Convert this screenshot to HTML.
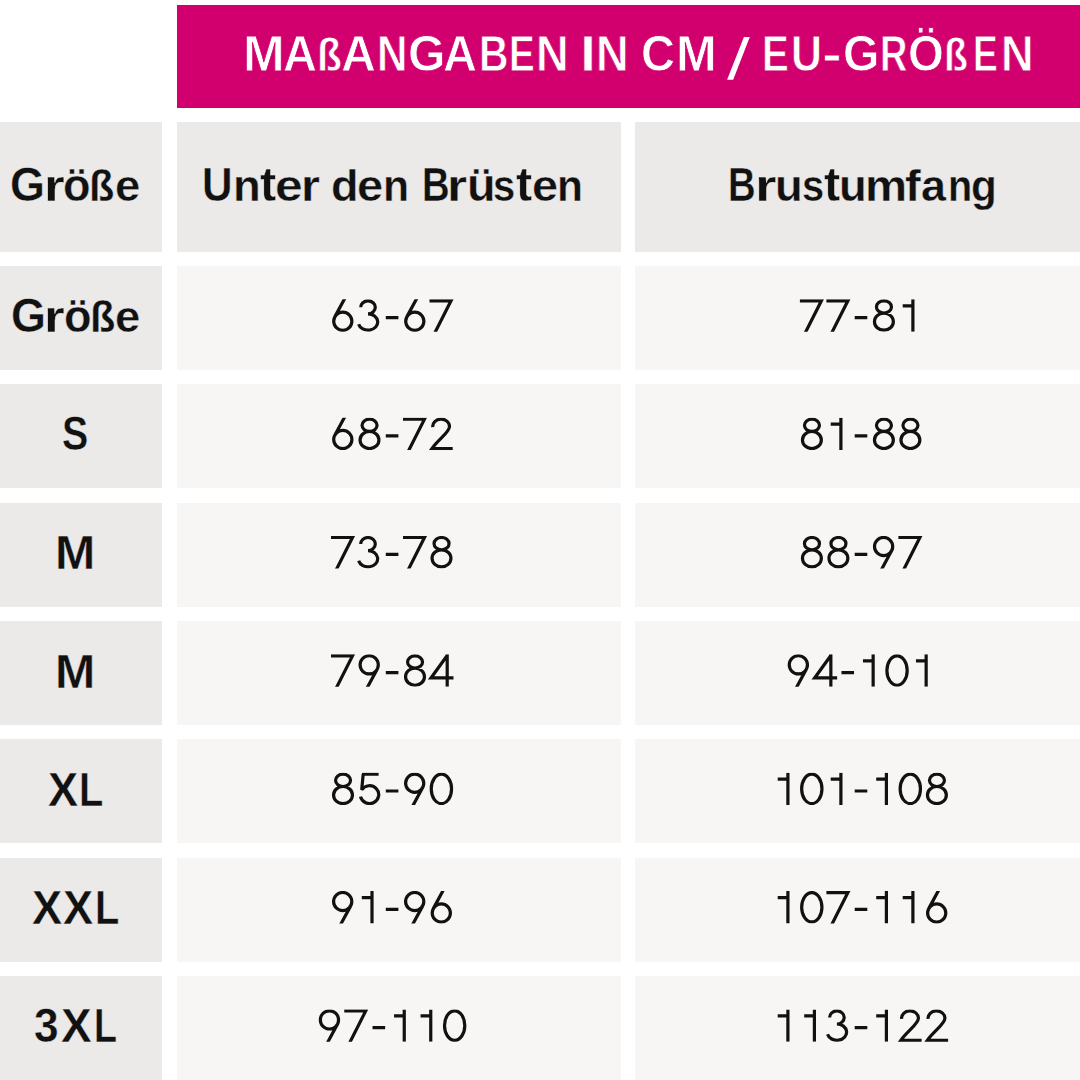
<!DOCTYPE html><html><head><meta charset="utf-8"><title>Maßangaben</title><style>
html,body{margin:0;padding:0;width:1080px;height:1080px;overflow:hidden;background:#fff;}
.c{position:absolute;}
.t{position:absolute;white-space:nowrap;line-height:1;font-family:"Liberation Sans",sans-serif;font-weight:700;color:#111111;transform-origin:0 0;}
</style></head><body>
<div class="c" style="left:177px;top:5px;width:903px;height:103px;background:#d1006e"></div>
<div class="c" style="left:0px;top:122px;width:162px;height:130px;background:#ebeae8"></div>
<div class="c" style="left:177px;top:122px;width:444px;height:130px;background:#ebeae8"></div>
<div class="c" style="left:635px;top:122px;width:445px;height:130px;background:#ebeae8"></div>
<div class="c" style="left:0px;top:266px;width:162px;height:104px;background:#ebeae8"></div>
<div class="c" style="left:177px;top:266px;width:444px;height:104px;background:#f7f6f4"></div>
<div class="c" style="left:635px;top:266px;width:445px;height:104px;background:#f7f6f4"></div>
<div class="c" style="left:0px;top:384px;width:162px;height:104px;background:#ebeae8"></div>
<div class="c" style="left:177px;top:384px;width:444px;height:104px;background:#f7f6f4"></div>
<div class="c" style="left:635px;top:384px;width:445px;height:104px;background:#f7f6f4"></div>
<div class="c" style="left:0px;top:503px;width:162px;height:104px;background:#ebeae8"></div>
<div class="c" style="left:177px;top:503px;width:444px;height:104px;background:#f7f6f4"></div>
<div class="c" style="left:635px;top:503px;width:445px;height:104px;background:#f7f6f4"></div>
<div class="c" style="left:0px;top:621px;width:162px;height:104px;background:#ebeae8"></div>
<div class="c" style="left:177px;top:621px;width:444px;height:104px;background:#f7f6f4"></div>
<div class="c" style="left:635px;top:621px;width:445px;height:104px;background:#f7f6f4"></div>
<div class="c" style="left:0px;top:739px;width:162px;height:104px;background:#ebeae8"></div>
<div class="c" style="left:177px;top:739px;width:444px;height:104px;background:#f7f6f4"></div>
<div class="c" style="left:635px;top:739px;width:445px;height:104px;background:#f7f6f4"></div>
<div class="c" style="left:0px;top:858px;width:162px;height:104px;background:#ebeae8"></div>
<div class="c" style="left:177px;top:858px;width:444px;height:104px;background:#f7f6f4"></div>
<div class="c" style="left:635px;top:858px;width:445px;height:104px;background:#f7f6f4"></div>
<div class="c" style="left:0px;top:976px;width:162px;height:104px;background:#ebeae8"></div>
<div class="c" style="left:177px;top:976px;width:444px;height:104px;background:#f7f6f4"></div>
<div class="c" style="left:635px;top:976px;width:445px;height:104px;background:#f7f6f4"></div>
<svg class="c" style="left:0;top:0" width="1080" height="120"><polygon points="743.9,36.9 749.8,36.9 733.2,79.7 727.1,79.7" fill="#ffffff"/></svg>
<svg class="c" style="left:0;top:0" width="1080" height="1080"><defs><clipPath id="cl" clipPathUnits="userSpaceOnUse"><rect x="-10" y="0" width="50" height="32.4"/></clipPath></defs><g fill="none" stroke="#111111" stroke-width="3.20" stroke-linecap="butt" stroke-linejoin="miter">
<path clip-path="url(#cl)" transform="translate(329.50,299.30)" d="M16.42,-3.00 L5.30,17.57 M4.20,21.90 A9.10,9.10 0 1 0 22.40,21.90 A9.10,9.10 0 1 0 4.20,21.90 Z"/>
<path clip-path="url(#cl)" transform="translate(356.00,299.30)" d="M4.70,8.05 A7.30,6.55 0 1 1 12.00,14.60 A9.70,8.15 0 1 1 2.63,24.86"/>
<path clip-path="url(#cl)" transform="translate(382.50,299.30)" d="M3.3,18.3 H15.9"/>
<path clip-path="url(#cl)" transform="translate(401.50,299.30)" d="M16.42,-3.00 L5.30,17.57 M4.20,21.90 A9.10,9.10 0 1 0 22.40,21.90 A9.10,9.10 0 1 0 4.20,21.90 Z"/>
<path clip-path="url(#cl)" transform="translate(428.00,299.30)" d="M1.5,1.5 H23.0 L6.6,34.0"/>
<path clip-path="url(#cl)" transform="translate(798.40,299.30)" d="M1.5,1.5 H23.0 L6.6,34.0"/>
<path clip-path="url(#cl)" transform="translate(824.90,299.30)" d="M1.5,1.5 H23.0 L6.6,34.0"/>
<path clip-path="url(#cl)" transform="translate(851.40,299.30)" d="M3.3,18.3 H15.9"/>
<path clip-path="url(#cl)" transform="translate(870.40,299.30)" d="M6.05,7.65 A7.50,6.15 0 1 0 21.05,7.65 A7.50,6.15 0 1 0 6.05,7.65 Z M4.05,22.35 A9.45,8.55 0 1 0 22.95,22.35 A9.45,8.55 0 1 0 4.05,22.35 Z"/>
<path clip-path="url(#cl)" transform="translate(896.90,299.30)" d="M16.0,0 V32.4 M5.8,6.5 H17.0"/>
<path clip-path="url(#cl)" transform="translate(329.50,417.65)" d="M16.42,-3.00 L5.30,17.57 M4.20,21.90 A9.10,9.10 0 1 0 22.40,21.90 A9.10,9.10 0 1 0 4.20,21.90 Z"/>
<path clip-path="url(#cl)" transform="translate(356.00,417.65)" d="M6.05,7.65 A7.50,6.15 0 1 0 21.05,7.65 A7.50,6.15 0 1 0 6.05,7.65 Z M4.05,22.35 A9.45,8.55 0 1 0 22.95,22.35 A9.45,8.55 0 1 0 4.05,22.35 Z"/>
<path clip-path="url(#cl)" transform="translate(382.50,417.65)" d="M3.3,18.3 H15.9"/>
<path clip-path="url(#cl)" transform="translate(401.50,417.65)" d="M1.5,1.5 H23.0 L6.6,34.0"/>
<path clip-path="url(#cl)" transform="translate(428.00,417.65)" d="M4.73,9.44 A8.40,7.40 0 1 1 21.50,8.80 C21.5,14.6 10.5,21.5 3.9,30.9 L24.7,30.9"/>
<path clip-path="url(#cl)" transform="translate(798.40,417.65)" d="M6.05,7.65 A7.50,6.15 0 1 0 21.05,7.65 A7.50,6.15 0 1 0 6.05,7.65 Z M4.05,22.35 A9.45,8.55 0 1 0 22.95,22.35 A9.45,8.55 0 1 0 4.05,22.35 Z"/>
<path clip-path="url(#cl)" transform="translate(824.90,417.65)" d="M16.0,0 V32.4 M5.8,6.5 H17.0"/>
<path clip-path="url(#cl)" transform="translate(851.40,417.65)" d="M3.3,18.3 H15.9"/>
<path clip-path="url(#cl)" transform="translate(870.40,417.65)" d="M6.05,7.65 A7.50,6.15 0 1 0 21.05,7.65 A7.50,6.15 0 1 0 6.05,7.65 Z M4.05,22.35 A9.45,8.55 0 1 0 22.95,22.35 A9.45,8.55 0 1 0 4.05,22.35 Z"/>
<path clip-path="url(#cl)" transform="translate(896.90,417.65)" d="M6.05,7.65 A7.50,6.15 0 1 0 21.05,7.65 A7.50,6.15 0 1 0 6.05,7.65 Z M4.05,22.35 A9.45,8.55 0 1 0 22.95,22.35 A9.45,8.55 0 1 0 4.05,22.35 Z"/>
<path clip-path="url(#cl)" transform="translate(329.50,536.00)" d="M1.5,1.5 H23.0 L6.6,34.0"/>
<path clip-path="url(#cl)" transform="translate(356.00,536.00)" d="M4.70,8.05 A7.30,6.55 0 1 1 12.00,14.60 A9.70,8.15 0 1 1 2.63,24.86"/>
<path clip-path="url(#cl)" transform="translate(382.50,536.00)" d="M3.3,18.3 H15.9"/>
<path clip-path="url(#cl)" transform="translate(401.50,536.00)" d="M1.5,1.5 H23.0 L6.6,34.0"/>
<path clip-path="url(#cl)" transform="translate(428.00,536.00)" d="M6.05,7.65 A7.50,6.15 0 1 0 21.05,7.65 A7.50,6.15 0 1 0 6.05,7.65 Z M4.05,22.35 A9.45,8.55 0 1 0 22.95,22.35 A9.45,8.55 0 1 0 4.05,22.35 Z"/>
<path clip-path="url(#cl)" transform="translate(798.40,536.00)" d="M6.05,7.65 A7.50,6.15 0 1 0 21.05,7.65 A7.50,6.15 0 1 0 6.05,7.65 Z M4.05,22.35 A9.45,8.55 0 1 0 22.95,22.35 A9.45,8.55 0 1 0 4.05,22.35 Z"/>
<path clip-path="url(#cl)" transform="translate(824.90,536.00)" d="M6.05,7.65 A7.50,6.15 0 1 0 21.05,7.65 A7.50,6.15 0 1 0 6.05,7.65 Z M4.05,22.35 A9.45,8.55 0 1 0 22.95,22.35 A9.45,8.55 0 1 0 4.05,22.35 Z"/>
<path clip-path="url(#cl)" transform="translate(851.40,536.00)" d="M3.3,18.3 H15.9"/>
<path clip-path="url(#cl)" transform="translate(870.40,536.00) rotate(180 13.25 16.2)" d="M16.42,-3.00 L5.30,17.57 M4.20,21.90 A9.10,9.10 0 1 0 22.40,21.90 A9.10,9.10 0 1 0 4.20,21.90 Z"/>
<path clip-path="url(#cl)" transform="translate(896.90,536.00)" d="M1.5,1.5 H23.0 L6.6,34.0"/>
<path clip-path="url(#cl)" transform="translate(329.50,654.35)" d="M1.5,1.5 H23.0 L6.6,34.0"/>
<path clip-path="url(#cl)" transform="translate(356.00,654.35) rotate(180 13.25 16.2)" d="M16.42,-3.00 L5.30,17.57 M4.20,21.90 A9.10,9.10 0 1 0 22.40,21.90 A9.10,9.10 0 1 0 4.20,21.90 Z"/>
<path clip-path="url(#cl)" transform="translate(382.50,654.35)" d="M3.3,18.3 H15.9"/>
<path clip-path="url(#cl)" transform="translate(401.50,654.35)" d="M6.05,7.65 A7.50,6.15 0 1 0 21.05,7.65 A7.50,6.15 0 1 0 6.05,7.65 Z M4.05,22.35 A9.45,8.55 0 1 0 22.95,22.35 A9.45,8.55 0 1 0 4.05,22.35 Z"/>
<path clip-path="url(#cl)" transform="translate(428.00,654.35)" d="M19.2,1.2 L3.0,23.6 L25.5,23.6 M19.2,0 V32.4"/>
<path clip-path="url(#cl)" transform="translate(785.15,654.35) rotate(180 13.25 16.2)" d="M16.42,-3.00 L5.30,17.57 M4.20,21.90 A9.10,9.10 0 1 0 22.40,21.90 A9.10,9.10 0 1 0 4.20,21.90 Z"/>
<path clip-path="url(#cl)" transform="translate(811.65,654.35)" d="M19.2,1.2 L3.0,23.6 L25.5,23.6 M19.2,0 V32.4"/>
<path clip-path="url(#cl)" transform="translate(838.15,654.35)" d="M3.3,18.3 H15.9"/>
<path clip-path="url(#cl)" transform="translate(857.15,654.35)" d="M16.0,0 V32.4 M5.8,6.5 H17.0"/>
<path clip-path="url(#cl)" transform="translate(883.65,654.35)" d="M3.25,16.20 A10.15,14.70 0 1 0 23.55,16.20 A10.15,14.70 0 1 0 3.25,16.20 Z"/>
<path clip-path="url(#cl)" transform="translate(910.15,654.35)" d="M16.0,0 V32.4 M5.8,6.5 H17.0"/>
<path clip-path="url(#cl)" transform="translate(329.50,772.70)" d="M6.05,7.65 A7.50,6.15 0 1 0 21.05,7.65 A7.50,6.15 0 1 0 6.05,7.65 Z M4.05,22.35 A9.45,8.55 0 1 0 22.95,22.35 A9.45,8.55 0 1 0 4.05,22.35 Z"/>
<path clip-path="url(#cl)" transform="translate(356.00,772.70)" d="M6.0,1.5 H22.6 M7.2,1.5 L5.70,17.12 A9.25,8.90 0 1 1 4.50,23.95"/>
<path clip-path="url(#cl)" transform="translate(382.50,772.70)" d="M3.3,18.3 H15.9"/>
<path clip-path="url(#cl)" transform="translate(401.50,772.70) rotate(180 13.25 16.2)" d="M16.42,-3.00 L5.30,17.57 M4.20,21.90 A9.10,9.10 0 1 0 22.40,21.90 A9.10,9.10 0 1 0 4.20,21.90 Z"/>
<path clip-path="url(#cl)" transform="translate(428.00,772.70)" d="M3.25,16.20 A10.15,14.70 0 1 0 23.55,16.20 A10.15,14.70 0 1 0 3.25,16.20 Z"/>
<path clip-path="url(#cl)" transform="translate(771.90,772.70)" d="M16.0,0 V32.4 M5.8,6.5 H17.0"/>
<path clip-path="url(#cl)" transform="translate(798.40,772.70)" d="M3.25,16.20 A10.15,14.70 0 1 0 23.55,16.20 A10.15,14.70 0 1 0 3.25,16.20 Z"/>
<path clip-path="url(#cl)" transform="translate(824.90,772.70)" d="M16.0,0 V32.4 M5.8,6.5 H17.0"/>
<path clip-path="url(#cl)" transform="translate(851.40,772.70)" d="M3.3,18.3 H15.9"/>
<path clip-path="url(#cl)" transform="translate(870.40,772.70)" d="M16.0,0 V32.4 M5.8,6.5 H17.0"/>
<path clip-path="url(#cl)" transform="translate(896.90,772.70)" d="M3.25,16.20 A10.15,14.70 0 1 0 23.55,16.20 A10.15,14.70 0 1 0 3.25,16.20 Z"/>
<path clip-path="url(#cl)" transform="translate(923.40,772.70)" d="M6.05,7.65 A7.50,6.15 0 1 0 21.05,7.65 A7.50,6.15 0 1 0 6.05,7.65 Z M4.05,22.35 A9.45,8.55 0 1 0 22.95,22.35 A9.45,8.55 0 1 0 4.05,22.35 Z"/>
<path clip-path="url(#cl)" transform="translate(329.50,891.05) rotate(180 13.25 16.2)" d="M16.42,-3.00 L5.30,17.57 M4.20,21.90 A9.10,9.10 0 1 0 22.40,21.90 A9.10,9.10 0 1 0 4.20,21.90 Z"/>
<path clip-path="url(#cl)" transform="translate(356.00,891.05)" d="M16.0,0 V32.4 M5.8,6.5 H17.0"/>
<path clip-path="url(#cl)" transform="translate(382.50,891.05)" d="M3.3,18.3 H15.9"/>
<path clip-path="url(#cl)" transform="translate(401.50,891.05) rotate(180 13.25 16.2)" d="M16.42,-3.00 L5.30,17.57 M4.20,21.90 A9.10,9.10 0 1 0 22.40,21.90 A9.10,9.10 0 1 0 4.20,21.90 Z"/>
<path clip-path="url(#cl)" transform="translate(428.00,891.05)" d="M16.42,-3.00 L5.30,17.57 M4.20,21.90 A9.10,9.10 0 1 0 22.40,21.90 A9.10,9.10 0 1 0 4.20,21.90 Z"/>
<path clip-path="url(#cl)" transform="translate(771.90,891.05)" d="M16.0,0 V32.4 M5.8,6.5 H17.0"/>
<path clip-path="url(#cl)" transform="translate(798.40,891.05)" d="M3.25,16.20 A10.15,14.70 0 1 0 23.55,16.20 A10.15,14.70 0 1 0 3.25,16.20 Z"/>
<path clip-path="url(#cl)" transform="translate(824.90,891.05)" d="M1.5,1.5 H23.0 L6.6,34.0"/>
<path clip-path="url(#cl)" transform="translate(851.40,891.05)" d="M3.3,18.3 H15.9"/>
<path clip-path="url(#cl)" transform="translate(870.40,891.05)" d="M16.0,0 V32.4 M5.8,6.5 H17.0"/>
<path clip-path="url(#cl)" transform="translate(896.90,891.05)" d="M16.0,0 V32.4 M5.8,6.5 H17.0"/>
<path clip-path="url(#cl)" transform="translate(923.40,891.05)" d="M16.42,-3.00 L5.30,17.57 M4.20,21.90 A9.10,9.10 0 1 0 22.40,21.90 A9.10,9.10 0 1 0 4.20,21.90 Z"/>
<path clip-path="url(#cl)" transform="translate(316.25,1009.40) rotate(180 13.25 16.2)" d="M16.42,-3.00 L5.30,17.57 M4.20,21.90 A9.10,9.10 0 1 0 22.40,21.90 A9.10,9.10 0 1 0 4.20,21.90 Z"/>
<path clip-path="url(#cl)" transform="translate(342.75,1009.40)" d="M1.5,1.5 H23.0 L6.6,34.0"/>
<path clip-path="url(#cl)" transform="translate(369.25,1009.40)" d="M3.3,18.3 H15.9"/>
<path clip-path="url(#cl)" transform="translate(388.25,1009.40)" d="M16.0,0 V32.4 M5.8,6.5 H17.0"/>
<path clip-path="url(#cl)" transform="translate(414.75,1009.40)" d="M16.0,0 V32.4 M5.8,6.5 H17.0"/>
<path clip-path="url(#cl)" transform="translate(441.25,1009.40)" d="M3.25,16.20 A10.15,14.70 0 1 0 23.55,16.20 A10.15,14.70 0 1 0 3.25,16.20 Z"/>
<path clip-path="url(#cl)" transform="translate(771.90,1009.40)" d="M16.0,0 V32.4 M5.8,6.5 H17.0"/>
<path clip-path="url(#cl)" transform="translate(798.40,1009.40)" d="M16.0,0 V32.4 M5.8,6.5 H17.0"/>
<path clip-path="url(#cl)" transform="translate(824.90,1009.40)" d="M4.70,8.05 A7.30,6.55 0 1 1 12.00,14.60 A9.70,8.15 0 1 1 2.63,24.86"/>
<path clip-path="url(#cl)" transform="translate(851.40,1009.40)" d="M3.3,18.3 H15.9"/>
<path clip-path="url(#cl)" transform="translate(870.40,1009.40)" d="M16.0,0 V32.4 M5.8,6.5 H17.0"/>
<path clip-path="url(#cl)" transform="translate(896.90,1009.40)" d="M4.73,9.44 A8.40,7.40 0 1 1 21.50,8.80 C21.5,14.6 10.5,21.5 3.9,30.9 L24.7,30.9"/>
<path clip-path="url(#cl)" transform="translate(923.40,1009.40)" d="M4.73,9.44 A8.40,7.40 0 1 1 21.50,8.80 C21.5,14.6 10.5,21.5 3.9,30.9 L24.7,30.9"/>
</g></svg>
<div class="t" style="left:242.96px;top:29.20px;font-size:49.20px;transform:scale(1.0145,1.0000);transform-origin:0 41.35px;-webkit-text-stroke:0.80px #d1006e;color:#ffffff;">M</div>
<div class="t" style="left:283.43px;top:29.20px;font-size:49.20px;transform:scale(0.9573,1.0000);transform-origin:0 41.35px;-webkit-text-stroke:0.80px #d1006e;color:#ffffff;">A</div>
<div class="t" style="left:316.77px;top:29.20px;font-size:49.20px;transform:scale(0.8246,0.9500);transform-origin:0 41.35px;-webkit-text-stroke:0.80px #d1006e;color:#ffffff;">ß</div>
<div class="t" style="left:340.89px;top:29.20px;font-size:49.20px;transform:scale(0.9846,1.0000);transform-origin:0 41.35px;-webkit-text-stroke:0.80px #d1006e;color:#ffffff;">A</div>
<div class="t" style="left:376.78px;top:29.20px;font-size:49.20px;transform:scale(0.8574,1.0000);transform-origin:0 41.35px;-webkit-text-stroke:0.80px #d1006e;color:#ffffff;">N</div>
<div class="t" style="left:407.62px;top:29.20px;font-size:49.20px;transform:scale(0.9789,1.0000);transform-origin:0 41.35px;-webkit-text-stroke:0.80px #d1006e;color:#ffffff;">G</div>
<div class="t" style="left:443.43px;top:29.20px;font-size:49.20px;transform:scale(0.9573,1.0000);transform-origin:0 41.35px;-webkit-text-stroke:0.80px #d1006e;color:#ffffff;">A</div>
<div class="t" style="left:478.57px;top:29.20px;font-size:49.20px;transform:scale(0.8299,1.0000);transform-origin:0 41.35px;-webkit-text-stroke:0.80px #d1006e;color:#ffffff;">B</div>
<div class="t" style="left:508.72px;top:29.20px;font-size:49.20px;transform:scale(0.7825,1.0000);transform-origin:0 41.35px;-webkit-text-stroke:0.80px #d1006e;color:#ffffff;">E</div>
<div class="t" style="left:535.77px;top:29.20px;font-size:49.20px;transform:scale(0.9196,1.0000);transform-origin:0 41.35px;-webkit-text-stroke:0.80px #d1006e;color:#ffffff;">N</div>
<div class="t" style="left:579.95px;top:29.20px;font-size:49.20px;transform:scale(1.1712,1.0000);transform-origin:0 41.35px;-webkit-text-stroke:0.80px #d1006e;color:#ffffff;">I</div>
<div class="t" style="left:595.77px;top:29.20px;font-size:49.20px;transform:scale(0.9196,1.0000);transform-origin:0 41.35px;-webkit-text-stroke:0.80px #d1006e;color:#ffffff;">N</div>
<div class="t" style="left:640.97px;top:29.20px;font-size:49.20px;transform:scale(0.9575,1.0000);transform-origin:0 41.35px;-webkit-text-stroke:0.80px #d1006e;color:#ffffff;">C</div>
<div class="t" style="left:675.54px;top:29.20px;font-size:49.20px;transform:scale(0.9912,1.0000);transform-origin:0 41.35px;-webkit-text-stroke:0.80px #d1006e;color:#ffffff;">M</div>
<div class="t" style="left:761.92px;top:29.20px;font-size:49.20px;transform:scale(0.8151,1.0000);transform-origin:0 41.35px;-webkit-text-stroke:0.80px #d1006e;color:#ffffff;">E</div>
<div class="t" style="left:791.22px;top:29.20px;font-size:49.20px;transform:scale(0.8724,1.0000);transform-origin:0 41.35px;-webkit-text-stroke:0.80px #d1006e;color:#ffffff;">U</div>
<div class="t" style="left:822.29px;top:29.20px;font-size:49.20px;transform:scale(1.2008,1.0000);transform-origin:0 41.35px;-webkit-text-stroke:0.80px #d1006e;color:#ffffff;">-</div>
<div class="t" style="left:842.68px;top:29.20px;font-size:49.20px;transform:scale(0.9518,1.0000);transform-origin:0 41.35px;-webkit-text-stroke:0.80px #d1006e;color:#ffffff;">G</div>
<div class="t" style="left:879.56px;top:29.20px;font-size:49.20px;transform:scale(0.7717,1.0000);transform-origin:0 41.35px;-webkit-text-stroke:0.80px #d1006e;color:#ffffff;">R</div>
<div class="t" style="left:908.21px;top:29.20px;font-size:49.20px;transform:scale(0.9361,1.0300);transform-origin:0 41.35px;-webkit-text-stroke:0.80px #d1006e;color:#ffffff;">Ö</div>
<div class="t" style="left:944.38px;top:29.20px;font-size:49.20px;transform:scale(0.7929,0.9500);transform-origin:0 41.35px;-webkit-text-stroke:0.80px #d1006e;color:#ffffff;">ß</div>
<div class="t" style="left:972.92px;top:29.20px;font-size:49.20px;transform:scale(0.7535,1.0000);transform-origin:0 41.35px;-webkit-text-stroke:0.80px #d1006e;color:#ffffff;">E</div>
<div class="t" style="left:1000.77px;top:29.20px;font-size:49.20px;transform:scale(0.9196,1.0000);transform-origin:0 41.35px;-webkit-text-stroke:0.80px #d1006e;color:#ffffff;">N</div>
<div class="t" style="left:10.46px;top:161.20px;font-size:47.50px;transform:scale(0.9453,1.0000);transform-origin:0 39.70px;-webkit-text-stroke:0.40px #ebeae8;">G</div>
<div class="t" style="left:44.19px;top:161.20px;font-size:47.50px;transform:scale(1.1206,0.9170);transform-origin:0 39.70px;-webkit-text-stroke:0.40px #ebeae8;">r</div>
<div class="t" style="left:63.34px;top:161.20px;font-size:47.50px;transform:scale(0.9485,0.9840);transform-origin:0 39.70px;-webkit-text-stroke:0.40px #ebeae8;">ö</div>
<div class="t" style="left:89.31px;top:161.20px;font-size:47.50px;transform:scale(0.8705,0.9510);transform-origin:0 39.70px;-webkit-text-stroke:0.40px #ebeae8;">ß</div>
<div class="t" style="left:114.73px;top:161.20px;font-size:47.50px;transform:scale(0.9547,0.9170);transform-origin:0 39.70px;-webkit-text-stroke:0.40px #ebeae8;">e</div>
<div class="t" style="left:201.96px;top:161.30px;font-size:47.50px;transform:scale(0.8896,1.0000);transform-origin:0 39.70px;-webkit-text-stroke:0.40px #ebeae8;">U</div>
<div class="t" style="left:232.81px;top:161.30px;font-size:47.50px;transform:scale(0.9547,0.9170);transform-origin:0 39.70px;-webkit-text-stroke:0.40px #ebeae8;">n</div>
<div class="t" style="left:259.51px;top:161.30px;font-size:47.50px;transform:scale(1.0233,1.0300);transform-origin:0 39.70px;-webkit-text-stroke:0.40px #ebeae8;">t</div>
<div class="t" style="left:274.86px;top:161.30px;font-size:47.50px;transform:scale(1.0463,0.9170);transform-origin:0 39.70px;-webkit-text-stroke:0.40px #ebeae8;">e</div>
<div class="t" style="left:301.29px;top:161.30px;font-size:47.50px;transform:scale(1.0249,0.9170);transform-origin:0 39.70px;-webkit-text-stroke:0.40px #ebeae8;">r</div>
<div class="t" style="left:330.55px;top:161.30px;font-size:47.50px;transform:scale(0.9484,0.9370);transform-origin:0 39.70px;-webkit-text-stroke:0.40px #ebeae8;">d</div>
<div class="t" style="left:356.96px;top:161.30px;font-size:47.50px;transform:scale(0.9896,0.9170);transform-origin:0 39.70px;-webkit-text-stroke:0.40px #ebeae8;">e</div>
<div class="t" style="left:383.09px;top:161.30px;font-size:47.50px;transform:scale(0.8981,0.9170);transform-origin:0 39.70px;-webkit-text-stroke:0.40px #ebeae8;">n</div>
<div class="t" style="left:421.54px;top:161.30px;font-size:47.50px;transform:scale(0.8043,1.0000);transform-origin:0 39.70px;-webkit-text-stroke:0.40px #ebeae8;">B</div>
<div class="t" style="left:447.40px;top:161.30px;font-size:47.50px;transform:scale(1.0864,0.9170);transform-origin:0 39.70px;-webkit-text-stroke:0.40px #ebeae8;">r</div>
<div class="t" style="left:466.90px;top:161.30px;font-size:47.50px;transform:scale(0.9853,0.9840);transform-origin:0 39.70px;-webkit-text-stroke:0.40px #ebeae8;">ü</div>
<div class="t" style="left:493.40px;top:161.30px;font-size:47.50px;transform:scale(0.8399,0.9170);transform-origin:0 39.70px;-webkit-text-stroke:0.40px #ebeae8;">s</div>
<div class="t" style="left:515.71px;top:161.30px;font-size:47.50px;transform:scale(1.0233,1.0300);transform-origin:0 39.70px;-webkit-text-stroke:0.40px #ebeae8;">t</div>
<div class="t" style="left:531.87px;top:161.30px;font-size:47.50px;transform:scale(0.9853,0.9170);transform-origin:0 39.70px;-webkit-text-stroke:0.40px #ebeae8;">e</div>
<div class="t" style="left:557.30px;top:161.30px;font-size:47.50px;transform:scale(0.8937,0.9170);transform-origin:0 39.70px;-webkit-text-stroke:0.40px #ebeae8;">n</div>
<div class="t" style="left:727.84px;top:161.30px;font-size:47.50px;transform:scale(0.8043,1.0000);transform-origin:0 39.70px;-webkit-text-stroke:0.40px #ebeae8;">B</div>
<div class="t" style="left:755.14px;top:161.30px;font-size:47.50px;transform:scale(1.1684,0.9170);transform-origin:0 39.70px;-webkit-text-stroke:0.40px #ebeae8;">r</div>
<div class="t" style="left:775.49px;top:161.30px;font-size:47.50px;transform:scale(0.9547,0.9170);transform-origin:0 39.70px;-webkit-text-stroke:0.40px #ebeae8;">u</div>
<div class="t" style="left:801.90px;top:161.30px;font-size:47.50px;transform:scale(0.8378,0.9170);transform-origin:0 39.70px;-webkit-text-stroke:0.40px #ebeae8;">s</div>
<div class="t" style="left:823.51px;top:161.30px;font-size:47.50px;transform:scale(1.0233,1.0300);transform-origin:0 39.70px;-webkit-text-stroke:0.40px #ebeae8;">t</div>
<div class="t" style="left:839.39px;top:161.30px;font-size:47.50px;transform:scale(0.9547,0.9170);transform-origin:0 39.70px;-webkit-text-stroke:0.40px #ebeae8;">u</div>
<div class="t" style="left:865.43px;top:161.30px;font-size:47.50px;transform:scale(0.9970,0.9170);transform-origin:0 39.70px;-webkit-text-stroke:0.40px #ebeae8;">m</div>
<div class="t" style="left:904.79px;top:161.30px;font-size:47.50px;transform:scale(0.9935,0.9480);transform-origin:0 39.70px;-webkit-text-stroke:0.40px #ebeae8;">f</div>
<div class="t" style="left:920.98px;top:161.30px;font-size:47.50px;transform:scale(0.9476,0.9170);transform-origin:0 39.70px;-webkit-text-stroke:0.40px #ebeae8;">a</div>
<div class="t" style="left:948.19px;top:161.30px;font-size:47.50px;transform:scale(0.8327,0.9170);transform-origin:0 39.70px;-webkit-text-stroke:0.40px #ebeae8;">n</div>
<div class="t" style="left:971.27px;top:161.30px;font-size:47.50px;transform:scale(0.8874,0.9170);transform-origin:0 39.70px;-webkit-text-stroke:0.40px #ebeae8;">g</div>
<div class="t" style="left:10.66px;top:291.70px;font-size:47.50px;transform:scale(0.9453,1.0000);transform-origin:0 39.70px;-webkit-text-stroke:0.40px #ebeae8;">G</div>
<div class="t" style="left:44.39px;top:291.70px;font-size:47.50px;transform:scale(1.1206,0.9170);transform-origin:0 39.70px;-webkit-text-stroke:0.40px #ebeae8;">r</div>
<div class="t" style="left:63.54px;top:291.70px;font-size:47.50px;transform:scale(0.9485,0.9840);transform-origin:0 39.70px;-webkit-text-stroke:0.40px #ebeae8;">ö</div>
<div class="t" style="left:89.51px;top:291.70px;font-size:47.50px;transform:scale(0.8705,0.9510);transform-origin:0 39.70px;-webkit-text-stroke:0.40px #ebeae8;">ß</div>
<div class="t" style="left:114.93px;top:291.70px;font-size:47.50px;transform:scale(0.9547,0.9170);transform-origin:0 39.70px;-webkit-text-stroke:0.40px #ebeae8;">e</div>
<div class="t" style="left:61.97px;top:410.10px;font-size:47.50px;transform:scale(0.8293,1.0000);transform-origin:0 39.70px;-webkit-text-stroke:0.40px #ebeae8;">S</div>
<div class="t" style="left:54.77px;top:529.30px;font-size:47.50px;transform:scale(1.0177,1.0000);transform-origin:0 39.70px;-webkit-text-stroke:0.40px #ebeae8;">M</div>
<div class="t" style="left:54.77px;top:648.00px;font-size:47.50px;transform:scale(1.0177,1.0000);transform-origin:0 39.70px;-webkit-text-stroke:0.40px #ebeae8;">M</div>
<div class="t" style="left:47.70px;top:766.00px;font-size:47.50px;transform:scale(0.9498,1.0000);transform-origin:0 39.70px;-webkit-text-stroke:0.40px #ebeae8;">X</div>
<div class="t" style="left:79.34px;top:766.00px;font-size:47.50px;transform:scale(0.8369,1.0000);transform-origin:0 39.70px;-webkit-text-stroke:0.40px #ebeae8;">L</div>
<div class="t" style="left:32.20px;top:883.60px;font-size:47.50px;transform:scale(0.9498,1.0000);transform-origin:0 39.70px;-webkit-text-stroke:0.40px #ebeae8;">X</div>
<div class="t" style="left:63.30px;top:883.60px;font-size:47.50px;transform:scale(0.9498,1.0000);transform-origin:0 39.70px;-webkit-text-stroke:0.40px #ebeae8;">X</div>
<div class="t" style="left:94.94px;top:883.60px;font-size:47.50px;transform:scale(0.8369,1.0000);transform-origin:0 39.70px;-webkit-text-stroke:0.40px #ebeae8;">L</div>
<div class="t" style="left:34.38px;top:1002.20px;font-size:47.50px;transform:scale(0.9318,1.0000);transform-origin:0 39.70px;-webkit-text-stroke:0.40px #ebeae8;">3</div>
<div class="t" style="left:61.10px;top:1002.20px;font-size:47.50px;transform:scale(0.9661,1.0000);transform-origin:0 39.70px;-webkit-text-stroke:0.40px #ebeae8;">X</div>
<div class="t" style="left:93.98px;top:1002.20px;font-size:47.50px;transform:scale(0.7918,1.0000);transform-origin:0 39.70px;-webkit-text-stroke:0.40px #ebeae8;">L</div>
</body></html>
